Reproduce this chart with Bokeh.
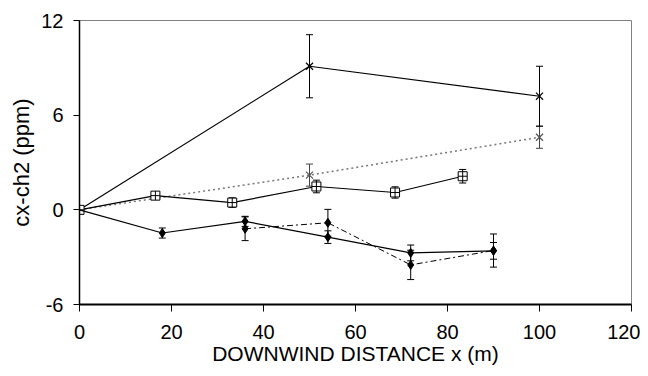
from bokeh.plotting import figure
from bokeh.models import ColumnDataSource, Whisker, TeeHead, FixedTicker, Range1d
from bokeh.embed import file_html
from bokeh.resources import INLINE

# Series A: solid line, X markers
a_x = [0, 50, 100]
a_y = [0, 9.1, 7.2]
a_e = [0, 2.0, 1.9]
# Series B: dotted grey line, X markers
b_x = [0, 50, 100]
b_y = [0, 2.2, 4.6]
b_e = [0, 0.7, 0.7]
# Series C: solid line, square-cross markers
c_x = [0, 16.5, 33.2, 51.5, 68.6, 83.3]
c_y = [0, 0.9, 0.46, 1.48, 1.1, 2.13]
c_e = [0, 0.2, 0.3, 0.4, 0.36, 0.43]
# Series D: solid line, filled diamonds
d_x = [0, 18, 36, 54, 72, 90]
d_y = [0, -1.47, -0.73, -1.73, -2.73, -2.6]
d_e = [0, 0.32, 0.32, 0.4, 0.5, 0.53]
# Series E: dash-dot line, filled diamonds
e_x = [36, 54, 72, 90]
e_y = [-1.2, -0.82, -3.49, -2.58]
e_e = [0.75, 0.85, 0.93, 1.05]

x_ticks = [0, 20, 40, 60, 80, 100, 120]
y_ticks = [-6, 0, 6, 12]
y_tick_labels = {-6: "-6", 0: "0", 6: "6", 12: "12"}

FONT = "Liberation Sans"

p = figure(width=640, height=368, output_backend="svg", toolbar_location=None,
           x_range=Range1d(0, 120), y_range=Range1d(-6, 12),
           min_border_left=79, min_border_right=9, min_border_top=20, min_border_bottom=64)
p.xgrid.visible = False
p.ygrid.visible = False
p.outline_line_color = "#808080"
p.outline_line_width = 1
p.background_fill_color = "white"
p.border_fill_color = "white"

for ax in (p.xaxis[0], p.yaxis[0]):
    ax.axis_line_color = "black"
    ax.major_tick_line_color = "black"
    ax.minor_tick_line_color = None
    ax.major_tick_in = 0
    ax.major_label_text_font = FONT
    ax.major_label_text_font_size = "20px"
    ax.major_label_text_color = "black"
    ax.axis_label_text_font = FONT
    ax.axis_label_text_font_style = "normal"
    ax.axis_label_text_color = "black"

p.xaxis.ticker = FixedTicker(ticks=x_ticks)
p.yaxis.ticker = FixedTicker(ticks=y_ticks)
p.yaxis.major_label_overrides = y_tick_labels
p.xaxis.axis_line_width = 2
p.yaxis.axis_line_width = 1.5
p.xaxis.major_tick_out = 7
p.yaxis.major_tick_out = 6
p.xaxis.major_label_standoff = 13
p.yaxis.major_label_standoff = 10
p.xaxis.axis_label = "DOWNWIND DISTANCE x (m)"
p.yaxis.axis_label = "cx-ch2 (ppm)"
p.xaxis.axis_label_text_font_size = "21px"
p.yaxis.axis_label_text_font_size = "22px"
p.xaxis.axis_label_standoff = 0
p.yaxis.axis_label_standoff = 4


def add_err(xs, ys, es, color="black"):
    src = ColumnDataSource(dict(x=xs, lo=[y - e for y, e in zip(ys, es)],
                                hi=[y + e for y, e in zip(ys, es)]))
    w = Whisker(source=src, base="x", lower="lo", upper="hi", line_color=color, line_width=1,
                upper_head=TeeHead(size=7, line_color=color, line_width=1),
                lower_head=TeeHead(size=7, line_color=color, line_width=1))
    p.add_layout(w)


# B dotted grey
add_err(b_x[1:], b_y[1:], b_e[1:], "#444444")
p.line(b_x, b_y, line_color="#777777", line_width=1.5, line_dash="2 3")
p.scatter(b_x, b_y, marker="x", size=10, line_color="#555555", line_width=1.2)

# A solid X
add_err(a_x[1:], a_y[1:], a_e[1:])
p.line(a_x, a_y, line_color="black", line_width=1.2)
p.scatter(a_x, a_y, marker="x", size=10, line_color="black", line_width=1.2)

# C squares
add_err(c_x[1:], c_y[1:], c_e[1:])
p.line(c_x, c_y, line_color="black", line_width=1.2)
p.scatter(c_x, c_y, marker="square_cross", size=9, line_color="black", fill_color="white", line_width=1)

# E dash-dot
add_err(e_x, e_y, e_e)
p.line(e_x, e_y, line_color="black", line_width=1, line_dash="6 3 2 3")
p.scatter(e_x, e_y, marker="diamond", size=9, line_color="black", fill_color="black")

# D solid diamonds
add_err(d_x[1:], d_y[1:], d_e[1:])
p.line(d_x, d_y, line_color="black", line_width=1.2)
p.scatter(d_x[1:], d_y[1:], marker="diamond", size=9, line_color="black", fill_color="black")

open("out.html", "w").write(file_html(p, INLINE))
